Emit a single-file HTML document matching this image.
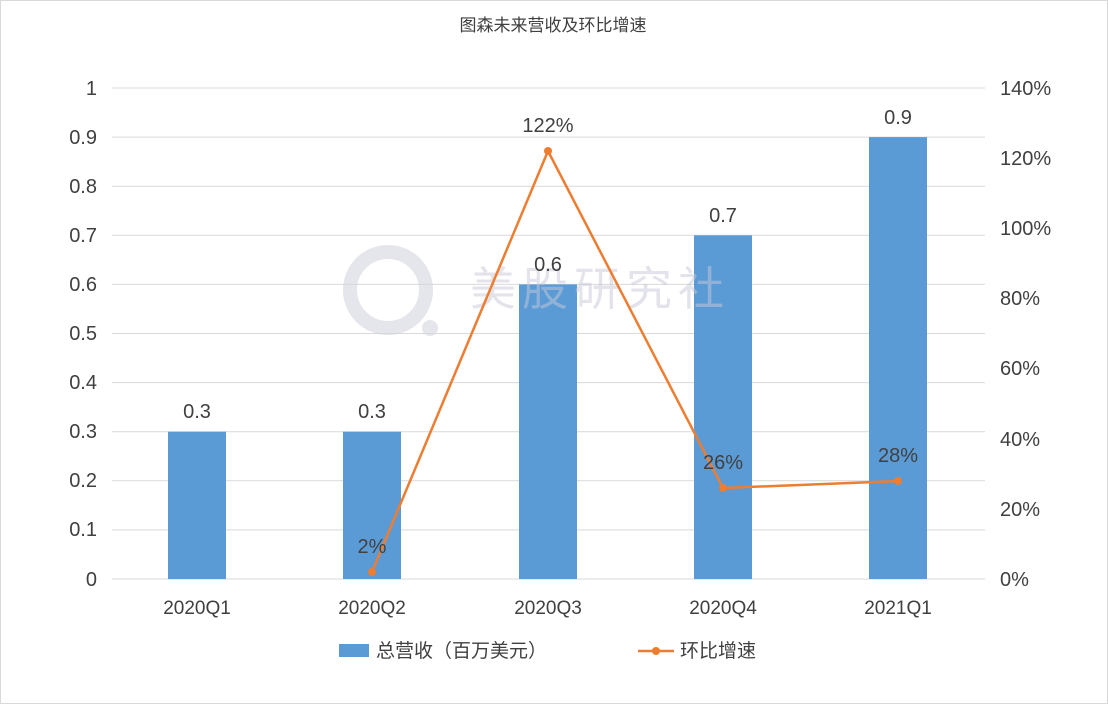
<!DOCTYPE html>
<html><head><meta charset="utf-8"><style>
body{margin:0;background:#fff;}
svg text{font-family:"Liberation Sans","Noto Sans CJK SC",sans-serif;}
</style></head><body>
<svg width="1108" height="704" viewBox="0 0 1108 704" xmlns="http://www.w3.org/2000/svg">
<rect x="0.5" y="0.5" width="1107" height="703" fill="#fff" stroke="#d9d9d9"/>
<text x="553" y="31" font-size="17" fill="#404040" text-anchor="middle">图森未来营收及环比增速</text>
<g stroke="#d9d9d9" stroke-width="1">
<line x1="112" x2="985" y1="88" y2="88"/><line x1="112" x2="985" y1="137.1" y2="137.1"/>
<line x1="112" x2="985" y1="186.2" y2="186.2"/><line x1="112" x2="985" y1="235.3" y2="235.3"/>
<line x1="112" x2="985" y1="284.4" y2="284.4"/><line x1="112" x2="985" y1="333.5" y2="333.5"/>
<line x1="112" x2="985" y1="382.6" y2="382.6"/><line x1="112" x2="985" y1="431.7" y2="431.7"/>
<line x1="112" x2="985" y1="480.8" y2="480.8"/><line x1="112" x2="985" y1="529.9" y2="529.9"/>
<line x1="112" x2="985" y1="579" y2="579"/>
</g>
<g font-size="20" fill="#404040" text-anchor="end">
<text x="97" y="95">1</text><text x="97" y="144">0.9</text><text x="97" y="193">0.8</text>
<text x="97" y="242">0.7</text><text x="97" y="291">0.6</text><text x="97" y="340">0.5</text>
<text x="97" y="389">0.4</text><text x="97" y="438">0.3</text><text x="97" y="487">0.2</text>
<text x="97" y="536">0.1</text><text x="97" y="586">0</text>
</g>
<g font-size="20" fill="#404040">
<text x="1000" y="95">140%</text><text x="1000" y="165">120%</text><text x="1000" y="235">100%</text>
<text x="1000" y="305">80%</text><text x="1000" y="375">60%</text><text x="1000" y="446">40%</text>
<text x="1000" y="516">20%</text><text x="1000" y="586">0%</text>
</g>
<g fill="#5b9bd5">
<rect x="168" y="431.7" width="58" height="147.3"/>
<rect x="343" y="431.7" width="58" height="147.3"/>
<rect x="519" y="284.4" width="58" height="294.6"/>
<rect x="694" y="235.3" width="58" height="343.7"/>
<rect x="869" y="137.1" width="58" height="441.9"/>
</g>
<text x="600" y="305" font-size="46" fill="#c8c8d8" opacity="0.5" text-anchor="middle" letter-spacing="6">美股研究社</text>
<circle cx="388" cy="290" r="38" fill="none" stroke="#d4d4e0" stroke-width="14" opacity="0.6"/>
<circle cx="430" cy="328" r="8" fill="#d4d4e0" opacity="0.6"/>
<g font-size="20" fill="#404040" text-anchor="middle">
<text x="197" y="418">0.3</text><text x="372" y="418">0.3</text><text x="548" y="271">0.6</text>
<text x="723" y="222">0.7</text><text x="898" y="124">0.9</text>
</g>
<polyline points="372,572 548,151 723,488 898,481" fill="none" stroke="#ed7d31" stroke-width="2.5"/>
<g fill="#ed7d31"><circle cx="372" cy="572" r="4"/><circle cx="548" cy="151" r="4"/><circle cx="723" cy="488" r="4"/><circle cx="898" cy="481" r="4"/></g>
<g font-size="20" fill="#404040" text-anchor="middle">
<text x="372" y="553">2%</text><text x="548" y="132">122%</text><text x="723" y="469">26%</text><text x="898" y="462">28%</text>
</g>
<g font-size="19" fill="#404040" text-anchor="middle">
<text x="197" y="614">2020Q1</text><text x="372" y="614">2020Q2</text><text x="548" y="614">2020Q3</text>
<text x="723" y="614">2020Q4</text><text x="898" y="614">2021Q1</text>
</g>
<rect x="339" y="644" width="30" height="13" fill="#5b9bd5"/>
<text x="376" y="657" font-size="19" fill="#404040">总营收（百万美元）</text>
<line x1="638" x2="674" y1="651" y2="651" stroke="#ed7d31" stroke-width="2.5"/>
<circle cx="656" cy="651" r="4" fill="#ed7d31"/>
<text x="680" y="657" font-size="19" fill="#404040">环比增速</text>
</svg>
</body></html>
